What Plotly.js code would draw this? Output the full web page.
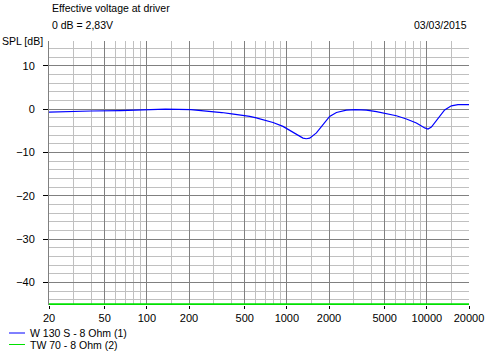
<!DOCTYPE html>
<html>
<head>
<meta charset="utf-8">
<script src="https://cdn.plot.ly/plotly-3.0.1.min.js"></script>
<style>html,body{margin:0;padding:0;background:#fff;}#chart{width:494px;height:355px;}</style>
</head>
<body>
<div id="chart"></div>
<script>
// ---- data ----
var seriesNames = ["W 130 S - 8 Ohm (1)", "TW 70 - 8 Ohm (2)"];
var seriesColors = ["#0000ff", "#00e000"];
var freqW = [20, 28, 40, 65, 97, 136, 206, 272, 343, 404, 460, 543, 605, 695, 796, 938, 1048, 1200, 1304, 1375, 1456, 1626, 1812, 2021, 2260, 2661, 3100, 3698, 4366, 5140, 6055, 7146, 8417, 9660, 10190, 10772, 12020, 13400, 14960, 16680, 20000];
var splW = [-0.7, -0.55, -0.45, -0.35, -0.15, 0, -0.15, -0.45, -0.8, -1.1, -1.35, -1.7, -2.05, -2.5, -3.1, -4.0, -4.9, -5.9, -6.7, -6.85, -6.7, -5.5, -3.6, -1.7, -0.8, -0.25, -0.15, -0.25, -0.6, -1.0, -1.55, -2.3, -3.2, -4.35, -4.6, -4.15, -2.1, -0.2, 0.75, 1.0, 1.0];
var freqT = [20, 20000];
var splT = [-45, -45];
var xTickVals = [20, 50, 100, 200, 500, 1000, 2000, 5000, 10000, 20000];
var xTickText = ["20", "50", "100", "200", "500", "1000", "2000", "5000", "10000", "20000"];
var xMinorVals = [30, 40, 60, 70, 80, 90, 150, 300, 400, 600, 700, 800, 900, 1500, 3000, 4000, 6000, 7000, 8000, 9000, 15000];
var yTickVals = [-40, -30, -20, -10, 0, 10];
var titleLine1 = "Effective voltage at driver";
var titleLine2 = "0 dB = 2,83V";
var dateText = "03/03/2015";
var yTitle = "SPL [dB]";

// ---- layout helpers (pixel -> paper) ----
var W = 494, H = 355, ML = 49, MR = 25, MT = 41, MB = 50;
var PW = W - ML - MR, PH = H - MT - MB;
function px(x) { return (x - ML) / PW; }
function py(y) { return (H - MB - y) / PH; }

var FONT = "Liberation Sans, Arial, sans-serif";
var TXT = {family: FONT, size: 10.5, color: "#000"};

var traces = [
  {x: freqW, y: splW, type: "scatter", mode: "lines", name: seriesNames[0],
   line: {color: seriesColors[0], width: 1.2}, showlegend: false, hoverinfo: "x+y"},
  {x: freqT, y: splT, type: "scatter", mode: "lines", name: seriesNames[1],
   line: {color: seriesColors[1], width: 2}, showlegend: false, hoverinfo: "x+y"}
];

var annotations = [
  {text: titleLine1, x: px(50), y: py(8), xref: "paper", yref: "paper", xanchor: "left", yanchor: "middle", showarrow: false, font: TXT},
  {text: titleLine2, x: px(50), y: py(24.5), xref: "paper", yref: "paper", xanchor: "left", yanchor: "middle", showarrow: false, font: TXT},
  {text: dateText, x: px(469), y: py(24.5), xref: "paper", yref: "paper", xanchor: "right", yanchor: "middle", showarrow: false, font: TXT},
  {text: yTitle, x: px(0), y: py(41), xref: "paper", yref: "paper", xanchor: "left", yanchor: "middle", showarrow: false, font: TXT},
  {text: seriesNames[0], x: px(28), y: py(333), xref: "paper", yref: "paper", xanchor: "left", yanchor: "middle", showarrow: false, font: TXT},
  {text: seriesNames[1], x: px(28), y: py(344.5), xref: "paper", yref: "paper", xanchor: "left", yanchor: "middle", showarrow: false, font: TXT}
];

var shapes = [
  {type: "line", xref: "paper", yref: "paper", x0: px(9), x1: px(25), y0: py(333), y1: py(333), line: {color: seriesColors[0], width: 1}},
  {type: "line", xref: "paper", yref: "paper", x0: px(9), x1: px(25), y0: py(344.5), y1: py(344.5), line: {color: seriesColors[1], width: 1}}
];

var layout = {
  width: W, height: H,
  margin: {l: ML, r: MR, t: MT, b: MB, pad: 0},
  paper_bgcolor: "#ffffff", plot_bgcolor: "#ffffff",
  font: {family: FONT, size: 11, color: "#000"},
  showlegend: false,
  xaxis: {
    type: "log", range: [Math.log10(20), Math.log10(20000)],
    tickmode: "array", tickvals: xTickVals, ticktext: xTickText,
    showgrid: true, gridcolor: "#808080", gridwidth: 1,
    minor: {tickmode: "array", tickvals: xMinorVals, showgrid: true, gridcolor: "#c0c0c0", gridwidth: 1, ticklen: 0},
    ticks: "outside", ticklen: 3, tickcolor: "#000", tickwidth: 1,
    showline: false, zeroline: false,
    tickfont: {family: FONT, size: 11, color: "#000"},
    fixedrange: true
  },
  yaxis: {
    range: [-45.2, 15.7],
    tickmode: "array", tickvals: yTickVals,
    showgrid: true, gridcolor: "#808080", gridwidth: 1,
    minor: {dtick: 2, tick0: 0, showgrid: true, gridcolor: "#c0c0c0", gridwidth: 1, ticklen: 0},
    ticks: "outside", ticklen: 5, tickcolor: "#000", tickwidth: 1,
    showline: true, linecolor: "#808080", linewidth: 1,
    zeroline: false,
    tickfont: {family: FONT, size: 11, color: "#000"},
    ticklabelstandoff: 6,
    fixedrange: true
  },
  annotations: annotations,
  shapes: shapes
};

Plotly.newPlot("chart", traces, layout, {displayModeBar: false, staticPlot: true});
</script>
</body>
</html>
